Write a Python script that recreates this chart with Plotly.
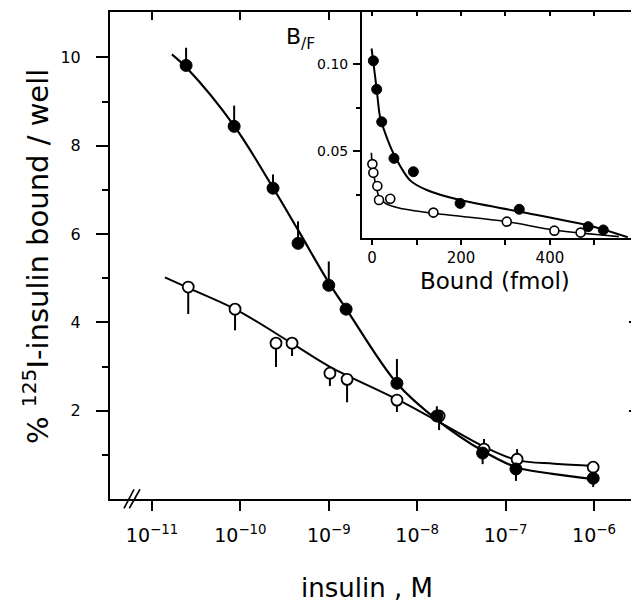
import plotly.graph_objects as go

# ---------------- main panel data ----------------
conc_filled = [2.43e-11, 8.5e-11, 2.34e-10, 4.49e-10, 1.0e-9, 1.57e-9, 5.9e-9, 1.67e-8, 5.5e-8, 1.31e-7, 9.8e-7]
pct_filled = [9.82, 8.44, 7.04, 5.79, 4.84, 4.30, 2.62, 1.88, 1.04, 0.68, 0.47]
err_up_filled = [0.40, 0.47, 0.31, 0.50, 0.54, 0.0, 0.55, 0.22, 0.0, 0.0, 0.0]
err_dn_filled = [0.0, 0.0, 0.0, 0.0, 0.0, 0.0, 0.0, 0.0, 0.25, 0.27, 0.20]

conc_open = [2.57e-11, 8.7e-11, 2.53e-10, 3.84e-10, 1.03e-9, 1.61e-9, 5.9e-9, 1.77e-8, 5.7e-8, 1.35e-7, 9.8e-7]
pct_open = [4.80, 4.30, 3.53, 3.53, 2.85, 2.71, 2.24, 1.88, 1.13, 0.90, 0.72]
err_up_open = [0.0, 0.0, 0.0, 0.0, 0.0, 0.0, 0.0, 0.0, 0.23, 0.23, 0.12]
err_dn_open = [0.61, 0.48, 0.54, 0.29, 0.29, 0.52, 0.27, 0.32, 0.0, 0.0, 0.0]

curve_filled_conc = [1.68e-11, 2.51e-11, 8.51e-11, 2.34e-10, 4.47e-10, 1.0e-9, 1.58e-9, 5.89e-9, 1.66e-8, 5.62e-8, 1.32e-7, 3.39e-7, 1.0e-6]
curve_filled_pct = [10.07, 9.75, 8.45, 7.05, 6.10, 4.90, 4.30, 2.62, 1.80, 1.08, 0.72, 0.57, 0.45]
curve_open_conc = [1.40e-11, 2.57e-11, 8.71e-11, 3.80e-10, 1.02e-9, 5.89e-9, 1.78e-8, 5.75e-8, 1.35e-7, 3.55e-7, 1.0e-6]
curve_open_pct = [5.02, 4.78, 4.30, 3.53, 3.00, 2.26, 1.74, 1.18, 0.88, 0.80, 0.75]

x_tick_vals = [1e-11, 1e-10, 1e-9, 1e-8, 1e-7, 1e-6]
x_tick_text = ["10<sup>\u221211</sup>", "10<sup>\u221210</sup>", "10<sup>\u22129</sup>",
               "10<sup>\u22128</sup>", "10<sup>\u22127</sup>", "10<sup>\u22126</sup>"]
y_tick_vals = [2, 4, 6, 8, 10]
y_minor_vals = [1, 3, 5, 7, 9]

# ---------------- inset (Scatchard) data ----------------
bound_filled = [3, 10.5, 21.8, 49.4, 93, 198, 331, 486, 520]
bf_filled = [0.1019, 0.0855, 0.0668, 0.0458, 0.0381, 0.0199, 0.0165, 0.0065, 0.0046]
bound_open = [0.8, 3, 12, 15.7, 41, 138, 303, 410, 469]
bf_open = [0.0425, 0.0375, 0.0299, 0.0218, 0.0226, 0.0146, 0.0094, 0.0042, 0.0031]

inset_curve_filled_b = [-1, 3, 10.5, 18, 30, 48, 85, 123, 198, 333, 498, 575]
inset_curve_filled_bf = [0.109, 0.101, 0.0855, 0.0697, 0.060, 0.0487, 0.0333, 0.0276, 0.0218, 0.0151, 0.0065, 0.0004]
inset_curve_open_b = [-1.5, 0, 4, 9, 16, 30, 63, 138, 303, 408, 555]
inset_curve_open_bf = [0.049, 0.043, 0.036, 0.030, 0.0235, 0.0200, 0.0171, 0.0142, 0.0094, 0.0046, 0.0008]

inset_x_ticks = [0, 100, 200, 300, 400, 500]
inset_x_text = ["0", "", "200", "", "400", ""]
inset_y_ticks = [0.05, 0.10]
inset_y_text = ["0.05", "0.10"]
inset_y_minor = [0.025, 0.075]

FONT = "DejaVu Sans"
BLACK = "black"

fig = go.Figure()

# ---- main panel: error bars (drawn first, beneath the markers) ----
for xs, ys, up, dn in [(conc_filled, pct_filled, err_up_filled, err_dn_filled),
                       (conc_open, pct_open, err_up_open, err_dn_open)]:
    fig.add_trace(go.Scatter(
        x=xs, y=ys, mode="markers",
        marker=dict(size=2, color="rgba(0,0,0,0)"),
        error_y=dict(type="data", symmetric=False, array=up, arrayminus=dn,
                     width=0, thickness=2, color=BLACK),
        hoverinfo="skip", showlegend=False, xaxis="x", yaxis="y"))

# ---- main panel: fitted curves ----
fig.add_trace(go.Scatter(x=curve_filled_conc, y=curve_filled_pct, mode="lines",
                         line=dict(color=BLACK, width=2.2, shape="spline", smoothing=1.0),
                         showlegend=False, xaxis="x", yaxis="y"))
fig.add_trace(go.Scatter(x=curve_open_conc, y=curve_open_pct, mode="lines",
                         line=dict(color=BLACK, width=2.0, shape="spline", smoothing=1.0),
                         showlegend=False, xaxis="x", yaxis="y"))

# ---- main panel: markers ----
fig.add_trace(go.Scatter(x=conc_open, y=pct_open, mode="markers",
                         marker=dict(size=11, color="white", line=dict(color=BLACK, width=1.8)),
                         showlegend=False, xaxis="x", yaxis="y"))
fig.add_trace(go.Scatter(x=conc_filled, y=pct_filled, mode="markers",
                         marker=dict(size=12, color=BLACK, line=dict(color=BLACK, width=1)),
                         showlegend=False, xaxis="x", yaxis="y"))

# dummy trace to register the mirrored frame axes
fig.add_trace(go.Scatter(x=[None], y=[None], mode="markers", showlegend=False,
                         hoverinfo="skip", xaxis="x2", yaxis="y2"))

# ---- inset ----
fig.add_trace(go.Scatter(x=inset_curve_filled_b, y=inset_curve_filled_bf, mode="lines",
                         line=dict(color=BLACK, width=2.0, shape="spline", smoothing=0.8),
                         showlegend=False, xaxis="x3", yaxis="y3"))
fig.add_trace(go.Scatter(x=inset_curve_open_b, y=inset_curve_open_bf, mode="lines",
                         line=dict(color=BLACK, width=1.6, shape="spline", smoothing=0.8),
                         showlegend=False, xaxis="x3", yaxis="y3"))
fig.add_trace(go.Scatter(x=bound_open, y=bf_open, mode="markers",
                         marker=dict(size=9, color="white", line=dict(color=BLACK, width=1.6)),
                         showlegend=False, xaxis="x3", yaxis="y3"))
fig.add_trace(go.Scatter(x=bound_filled, y=bf_filled, mode="markers",
                         marker=dict(size=10, color=BLACK, line=dict(color=BLACK, width=1)),
                         showlegend=False, xaxis="x3", yaxis="y3"))
fig.add_trace(go.Scatter(x=[None], y=[None], mode="markers", showlegend=False,
                         hoverinfo="skip", xaxis="x4", yaxis="y3"))

common = dict(showgrid=False, zeroline=False, linecolor=BLACK, tickcolor=BLACK)

# the page body adds an 8px offset; the figure is sized so the plot area lands
# at x 110..638, y 12..499 in the window
fig.update_layout(
    width=631, height=597,
    margin=dict(l=102, r=1, t=4, b=106),
    paper_bgcolor="white", plot_bgcolor="white",
    font=dict(family=FONT, color=BLACK),
    showlegend=False,
    xaxis=dict(type="log", range=[-11.475, -5.502], domain=[0, 1], anchor="y",
               showline=True, linewidth=2, ticks="outside", ticklen=10, tickwidth=1.6,
               tickmode="array", tickvals=x_tick_vals, ticktext=x_tick_text,
               tickfont=dict(size=19, family=FONT), ticklabelstandoff=8, **common),
    xaxis2=dict(type="log", range=[-11.475, -5.502], overlaying="x", side="top", anchor="y",
                showline=True, linewidth=2, ticks="inside", ticklen=8, tickwidth=1.6,
                tickmode="array", tickvals=x_tick_vals, showticklabels=False, **common),
    yaxis=dict(range=[0, 11.03], domain=[0, 1], anchor="x",
               showline=True, linewidth=2, ticks="outside", ticklen=12, tickwidth=1.6,
               tickmode="array", tickvals=y_tick_vals,
               minor=dict(tickmode="array", tickvals=y_minor_vals, ticks="outside",
                          ticklen=6, tickwidth=1.6, tickcolor=BLACK, showgrid=False),
               tickfont=dict(size=16, family=FONT), ticklabelstandoff=12, **common),
    yaxis2=dict(range=[0, 11.03], overlaying="y", side="right", anchor="x",
                showline=True, linewidth=2, ticks="inside", ticklen=9, tickwidth=1.6,
                tickmode="array", tickvals=y_tick_vals, showticklabels=False,
                minor=dict(tickmode="array", tickvals=y_minor_vals, ticks="inside",
                           ticklen=6, tickwidth=1.6, tickcolor=BLACK, showgrid=False),
                **common),
    xaxis3=dict(range=[-22.5, 598], domain=[0.4773, 1.0], anchor="y3",
                showline=True, linewidth=2, ticks="outside", ticklen=5, tickwidth=1.5,
                tickmode="array", tickvals=inset_x_ticks, ticktext=inset_x_text,
                tickfont=dict(size=15, family=FONT), ticklabelstandoff=0, **common),
    xaxis4=dict(range=[-22.5, 598], overlaying="x3", side="top", anchor="y3",
                showline=True, linewidth=2, ticks="inside", ticklen=4, tickwidth=1.5,
                tickmode="array", tickvals=inset_x_ticks, showticklabels=False, **common),
    yaxis3=dict(range=[0, 0.13], domain=[0.536, 1.0], anchor="x3",
                showline=True, linewidth=2, ticks="outside", ticklen=7, tickwidth=1.5,
                tickmode="array", tickvals=inset_y_ticks, ticktext=inset_y_text,
                minor=dict(tickmode="array", tickvals=inset_y_minor, ticks="outside",
                           ticklen=4, tickwidth=1.5, tickcolor=BLACK, showgrid=False),
                tickfont=dict(size=14, family=FONT), ticklabelstandoff=2, **common),
)

annotations = [
    dict(text="% <sup>125</sup>I-insulin bound / well", textangle=-90,
         x=-0.140, y=0.497, xref="paper", yref="paper", showarrow=False,
         xanchor="center", yanchor="middle", font=dict(size=29, family=FONT)),
    dict(text="insulin , M", x=0.4867, y=-0.183, xref="paper", yref="paper",
         showarrow=False, xanchor="center", yanchor="middle", font=dict(size=26, family=FONT)),
    dict(text="Bound (fmol)", x=0.729, y=0.4476, xref="paper", yref="paper",
         showarrow=False, xanchor="center", yanchor="middle", font=dict(size=23, family=FONT)),
    dict(text="B<sub>/F</sub>", x=(300 - 110) / 528, y=(499 - 38) / 487, xref="paper", yref="paper",
         showarrow=False, xanchor="center", yanchor="middle", font=dict(size=22, family=FONT)),
]
fig.update_layout(annotations=annotations)

# axis-break mark on the main x axis
for x0, x1 in [(0.0265, 0.0455), (0.0366, 0.0568)]:
    fig.add_shape(type="line", xref="paper", yref="paper", x0=x0, y0=-0.019, x1=x1, y1=0.02,
                  line=dict(color=BLACK, width=1.6))

fig.write_html("out.html")
